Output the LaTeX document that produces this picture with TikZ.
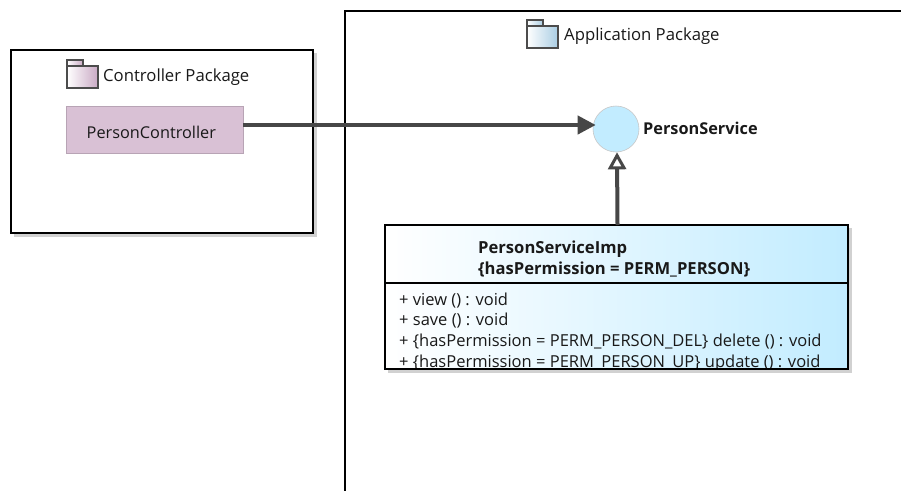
\documentclass[tikz,border=0pt]{standalone}
\usepackage{fontspec}
\setmainfont{Open Sans}
\usetikzlibrary{arrows.meta,shadows}
\definecolor{linegray}{HTML}{474747}
\definecolor{ctrlfill}{HTML}{D9C1D5}
\definecolor{ifacefill}{HTML}{C2ECFF}
\definecolor{pkgpurple}{HTML}{C9A9C4}
\definecolor{pkgblue}{HTML}{A9CDE3}
\tikzset{
  x=1pt,y=-1pt,
  pkgbox/.style={draw=black,line width=2pt,fill=white,anchor=north west,inner sep=0pt,outer sep=0pt},
  softshadow/.style={fill=black!18,draw=none},
  label/.style={inner sep=0pt,anchor=west,font=\fontsize{16.7}{18}\selectfont,text=black!90},
  boldlabel/.style={label,font=\fontsize{16.6}{18}\selectfont\bfseries},
  member/.style={label,font=\fontsize{16.5}{18}\selectfont},
  conn/.style={draw=linegray,line width=4pt},
  tabicon/.style={draw=black!70,line width=1.4pt},
}
\begin{document}
\begin{tikzpicture}
\useasboundingbox (0,0) rectangle (901,490);
\clip (0,0) rectangle (901,490);
% shadows
\fill[softshadow] (14,53) rectangle (317,237);
% packages
\node[pkgbox,minimum width=302pt,minimum height=183pt] (ctrl) at (11,50) {};
\node[pkgbox,minimum width=580pt,minimum height=500pt] (app) at (345,11) {};
% controller icon
\path[tabicon,left color=white,right color=pkgpurple] (67,66) rectangle (98,88);
\path[tabicon,left color=white,right color=pkgpurple] (67,60) rectangle (83,66);
\node[label] (ctrllabel) at (103,77) {Controller Package};
% person controller
\node[fill=ctrlfill,draw=ctrlfill!85!black,line width=.5pt,anchor=north west,inner sep=0pt,outer sep=0pt,minimum width=177pt,minimum height=47pt] (pc) at (66,106) {};
\node[label,font=\fontsize{16.3}{18}\selectfont] (pclabel) at (86.5,132) {PersonController};
% application icon
\path[tabicon,left color=white,right color=pkgblue] (527,26) rectangle (558,48);
\path[tabicon,left color=white,right color=pkgblue] (527,20) rectangle (543,26);
\node[label] (applabel) at (564,36) {Application Package};
% interface
\node[circle,fill=ifacefill,draw=black!22,line width=.6pt,minimum size=46pt,inner sep=0pt] (ps) at (616,129) {};
\node[boldlabel,font=\fontsize{16.3}{18}\selectfont\bfseries] (pslabel) at (643,128) {PersonService};
% class shadow
\fill[softshadow] (388,228) rectangle (852,373);
% class
\node[draw=black,line width=2pt,left color=white,right color=ifacefill,anchor=north west,inner sep=0pt,outer sep=0pt,minimum width=463pt,minimum height=144pt] (cls) at (385,225) {};
\coordinate (divl) at (385,283);
\coordinate (divr) at (848,283);
\draw[black,line width=1.8pt] (divl) -- (divr);
\node[boldlabel] (clsname) at (478,249) {PersonServiceImp};
\node[boldlabel] (clsperm) at (478,269.5) {\{hasPermission = PERM\_PERSON\}};
\node[member] (m1) at (399,300.5) {+ view () : void};
\node[member] (m2) at (399,321) {+ save () : void};
\node[member] (m3) at (399,342) {+ \{hasPermission = PERM\_PERSON\_DEL\} delete () : void};
\begin{scope}
\clip (386,350) rectangle (847,368);
\node[member] (m4) at (399,363) {+ \{hasPermission = PERM\_PERSON\_UP\} update () : void};
\end{scope}
\draw[black,line width=2pt] (cls.south west) -- (cls.south east);
% connectors
\path (ps.west -| pc.east) ++(0,-4) coordinate (callstart);
\draw[conn,shorten >=-3pt,-{Triangle[length=18pt,width=18pt,fill=linegray]}] (callstart) -- ([yshift=4pt]ps.west);
\draw[conn,-{Triangle[open,length=17pt,width=18pt,fill=white,line width=3pt]}] ([xshift=1pt]cls.north) -- ([xshift=1pt]ps.south);
\end{tikzpicture}
\end{document}
